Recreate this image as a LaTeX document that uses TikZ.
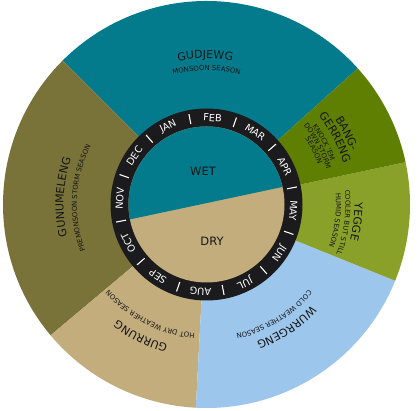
\documentclass[tikz,border=0pt]{standalone}
\usepackage{fontspec}
\setmainfont{DejaVu Sans}
\usetikzlibrary{decorations.text}
\definecolor{gudjewgc}{HTML}{037B8C}
\definecolor{bangc}{HTML}{5F7F02}
\definecolor{yeggec}{HTML}{8AA129}
\definecolor{wurrc}{HTML}{9DC6EC}
\definecolor{gurrc}{HTML}{C3AD7D}
\definecolor{gunuc}{HTML}{797339}
\definecolor{ringc}{HTML}{1B1B1D}
\definecolor{inkc}{HTML}{161616}
\newcommand\tfont{\fontsize{11}{12}\selectfont}
\newcommand\sfont{\fontsize{6.9}{7.5}\selectfont}
\newcommand\arclab[4]{\path[decorate,decoration={text along path,text align=center,text color=inkc,text={|#3|#4}}] ([shift={(#1+50:#2)}]c) arc[start angle=#1+50,end angle=#1-50,radius=#2];}
\newcommand\sector[3]{\fill[#3] (c) -- ([shift={(#1:203.5)}]c) arc[start angle=#1,end angle=#2,radius=203.5] -- cycle;}
\begin{document}
\begin{tikzpicture}[x=1pt,y=1pt,
  month/.style={text=white,font=\fontsize{9.8}{10}\selectfont,inner sep=0pt},
  sepline/.style={white,line width=1.1pt},
  core/.style={text=inkc,font=\fontsize{11.5}{12}\selectfont,inner sep=0pt}]
\useasboundingbox (0,0) rectangle (417,411);
\fill[white] (0,0) rectangle (417,411);
\coordinate (c) at (206.5,206.5);
% outer seasons
\sector{42}{135}{gudjewgc}
\sector{135}{220}{gunuc}
\sector{220}{267}{gurrc}
\sector{267}{338}{wurrc}
\sector{-22}{12}{yeggec}
\sector{12}{42}{bangc}
% month ring
\fill[ringc] (c) circle (96);
\fill[gurrc] (c) circle (78);
\fill[gudjewgc] ([shift={(13:78)}]c) arc[start angle=13,end angle=191,radius=78] -- cycle;
\foreach \m [count=\i] in {JAN,FEB,MAR,APR,MAY,JUN,JUL,AUG,SEP,OCT,NOV,DEC}{
  \pgfmathsetmacro\ang{116-30*(\i-1)}
  \node[month,rotate=\ang-90] (m\i) at ([shift={(\ang:87)}]c) {\m};
}
\foreach \i in {0,...,11}{
  \draw[sepline] ([shift={(101-30*\i:82)}]c) -- ([shift={(101-30*\i:92)}]c);
}
\node[core] (wet) at ([shift={(-3.5,33.5)}]c) {WET};
\node[core] (dry) at ([shift={(5.5,-36.5)}]c) {DRY};
% season labels
\arclab{90.5}{146}{\tfont}{GUDJEWG}
\arclab{90}{134}{\sfont}{MONSOON SEASON}
\arclab{177}{143}{\tfont}{GUNUMELENG}
\arclab{177}{129.5}{\sfont}{PREMONSOON STORM SEASON}
\arclab{243.5}{145.5}{\tfont}{GURRUNG}
\arclab{243}{129.5}{\sfont}{HOT DRY WEATHER SEASON}
\arclab{-57}{146}{\tfont}{WURRGENG}
\arclab{-58.5}{133}{\sfont}{COLD WEATHER SEASON}
\arclab{-6.6}{148}{\tfont}{YEGGE}
\arclab{-7.5}{139}{\sfont}{COOLER BUT STILL}
\arclab{-7}{129.5}{\sfont}{HUMID SEASON}
\arclab{26.8}{154}{\tfont}{BANG-}
\arclab{27.5}{143}{\tfont}{GERRENG}
\arclab{27.9}{131.5}{\sfont}{KNOCK 'EM}
\arclab{27.7}{125}{\sfont}{DOWN STORM}
\arclab{26.7}{118.5}{\sfont}{SEASON}
\end{tikzpicture}
\end{document}
